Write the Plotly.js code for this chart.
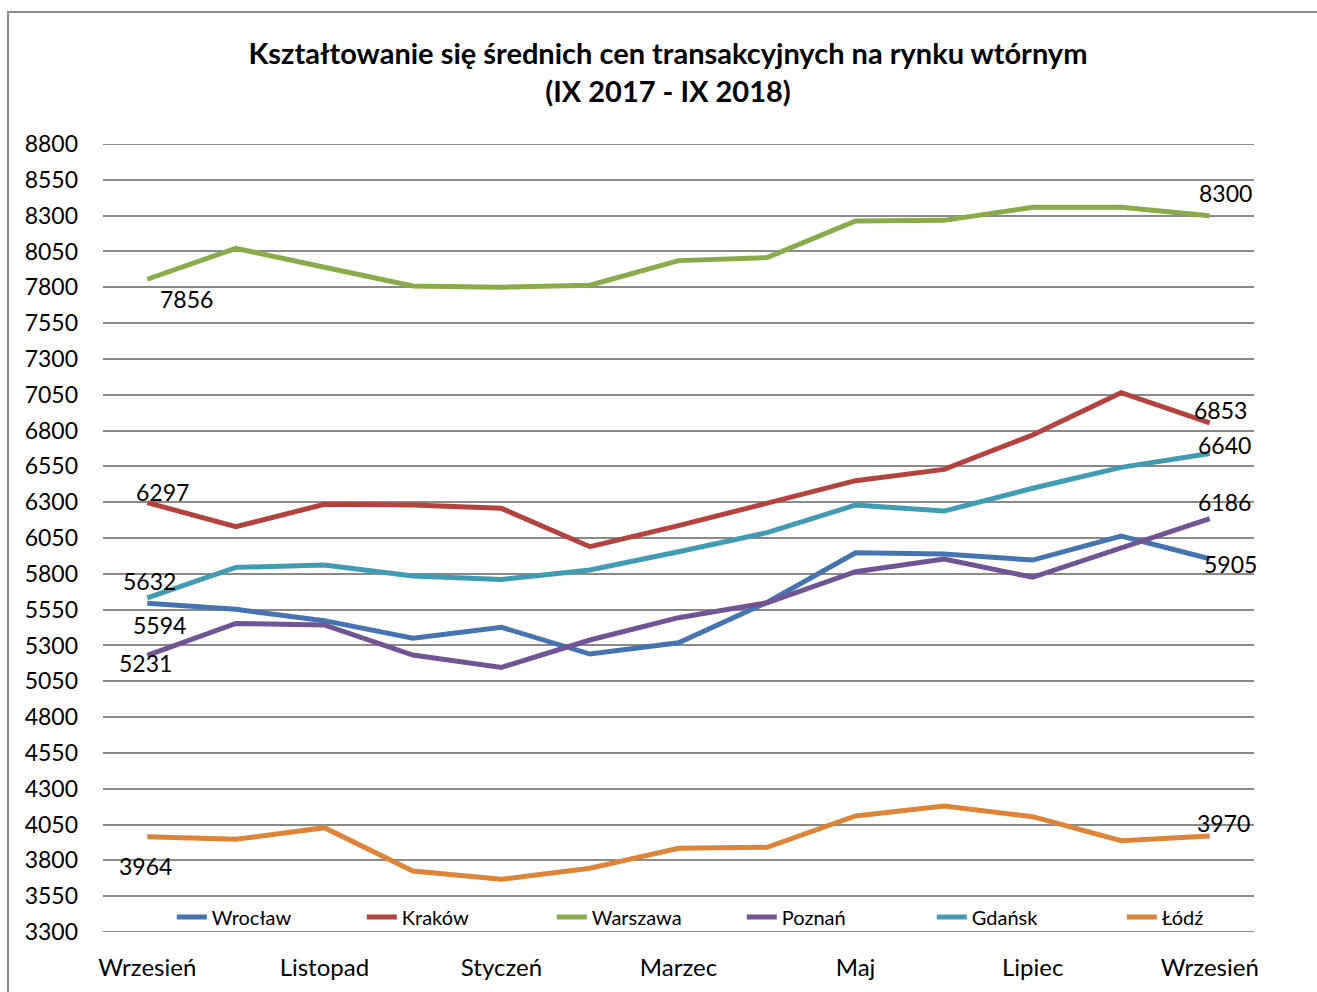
<!DOCTYPE html>
<html>
<head>
<meta charset="utf-8">
<script src="https://cdn.plot.ly/plotly-3.0.1.min.js"></script>
<style>
  html, body { margin: 0; padding: 0; background: #fff; }
  #wrap { position: relative; width: 1317px; height: 992px; }
  #chart { width: 1317px; height: 992px; }
  #frame { position: absolute; left: 7px; top: 11px; right: 0; bottom: 0;
           border-left: 2px solid #8a8a8a; border-top: 2px solid #8a8a8a; pointer-events: none; }
</style>
</head>
<body>
<div id="wrap"><div id="chart"></div><div id="frame"></div></div>
<script>
// ---- data ----
const months = ['Wrzesień','Październik','Listopad','Grudzień','Styczeń','Luty','Marzec','Kwiecień','Maj','Czerwiec','Lipiec','Sierpień','Wrzesień'];
const tickIdx = [0, 2, 4, 6, 8, 10, 12];
const tickLabels = ['Wrzesień','Listopad','Styczeń','Marzec','Maj','Lipiec','Wrzesień'];

const wroclaw  = [5594, 5552, 5473, 5350, 5427, 5240, 5319, 5600, 5947, 5938, 5896, 6064, 5905];
const krakow   = [6297, 6129, 6285, 6280, 6257, 5989, 6136, 6292, 6450, 6529, 6769, 7064, 6853];
const warszawa = [7856, 8072, 7940, 7809, 7800, 7814, 7986, 8007, 8263, 8267, 8358, 8358, 8300];
const poznan   = [5231, 5454, 5443, 5233, 5147, 5338, 5494, 5598, 5815, 5903, 5776, 5978, 6186];
const gdansk   = [5632, 5845, 5861, 5785, 5761, 5827, 5954, 6087, 6280, 6238, 6397, 6543, 6640];
const lodz     = [3964, 3947, 4028, 3726, 3668, 3745, 3884, 3891, 4110, 4179, 4105, 3937, 3970];

const seriesNames = ['Wrocław','Kraków','Warszawa','Poznań','Gdańsk','Łódź'];
const seriesData  = [wroclaw, krakow, warszawa, poznan, gdansk, lodz];

// ---- styles ----
const colors = ['#4674B0','#B3433F','#8AAB4B','#705494','#419BB2','#DD8439'];
// label pixel offsets [first, last] as [xshift, yshift]
const labelShift = [
  [[12,-22],[21,-5]],
  [[15,11],[11,13]],
  [[39,-20],[16,23]],
  [[-2,-8],[15,17]],
  [[2,17],[15,8]],
  [[-2,-29],[14,13]]
];
const FONT = 'Lato, "Open Sans", sans-serif';

const xs = months.map((m, i) => i);
const traces = seriesData.map((d, k) => ({
  type: 'scatter', mode: 'lines', name: seriesNames[k],
  x: xs, y: d, text: months,
  line: { color: colors[k], width: 5 },
  hovertemplate: '%{text}: %{y}<extra>' + seriesNames[k] + '</extra>'
}));

const annotations = [];
seriesData.forEach((d, k) => {
  [0, d.length - 1].forEach((idx, j) => {
    annotations.push({
      x: xs[idx], y: d[idx], xref: 'x', yref: 'y',
      text: String(d[idx]), showarrow: false,
      xanchor: 'center', yanchor: 'middle',
      xshift: labelShift[k][j][0], yshift: labelShift[k][j][1],
      font: { family: FONT, size: 23, color: '#000' }
    });
  });
});

const layout = {
  width: 1317, height: 992,
  margin: { l: 103, r: 63, t: 144, b: 60, autoexpand: false },
  paper_bgcolor: '#fff', plot_bgcolor: '#fff',
  title: {
    text: '<b>Kształtowanie się średnich cen transakcyjnych na rynku wtórnym<br>(IX 2017 - IX 2018)</b>',
    font: { family: FONT, size: 29, color: '#000' },
    x: 668 / 1317, xref: 'container', xanchor: 'center',
    y: 1 - 64 / 992, yref: 'container', yanchor: 'top'
  },
  xaxis: {
    range: [-0.5, 12.5], tickvals: tickIdx, ticktext: tickLabels,
    showgrid: false, zeroline: false, showline: false, ticks: '',
    tickfont: { family: FONT, size: 24, color: '#000' },
    ticklabelstandoff: 19, fixedrange: true, automargin: false
  },
  yaxis: {
    range: [3300, 8800], tick0: 3300, dtick: 250,
    showgrid: true, gridcolor: '#8a8a8a', gridwidth: 2,
    zeroline: false, showline: false, ticks: '',
    tickfont: { family: FONT, size: 23, color: '#000' },
    ticklabelstandoff: 24, fixedrange: true, automargin: false
  },
  shapes: [
    { type: 'line', xref: 'paper', yref: 'y', x0: 0, x1: 1, y0: 8800, y1: 8800, line: { color: '#8a8a8a', width: 2 } },
    { type: 'line', xref: 'paper', yref: 'y', x0: 0, x1: 1, y0: 3300, y1: 3300, line: { color: '#8a8a8a', width: 2 } }
  ],
  legend: {
    orientation: 'h', x: 0.555, xanchor: 'center', y: 0.019, yanchor: 'middle',
    bgcolor: 'rgba(0,0,0,0)', font: { family: FONT, size: 20, color: '#000' },
    entrywidth: 145, entrywidthmode: 'pixels'
  },
  annotations: annotations,
  showlegend: true
};

Plotly.newPlot('chart', traces, layout, { displayModeBar: false, staticPlot: false });
</script>
</body>
</html>
